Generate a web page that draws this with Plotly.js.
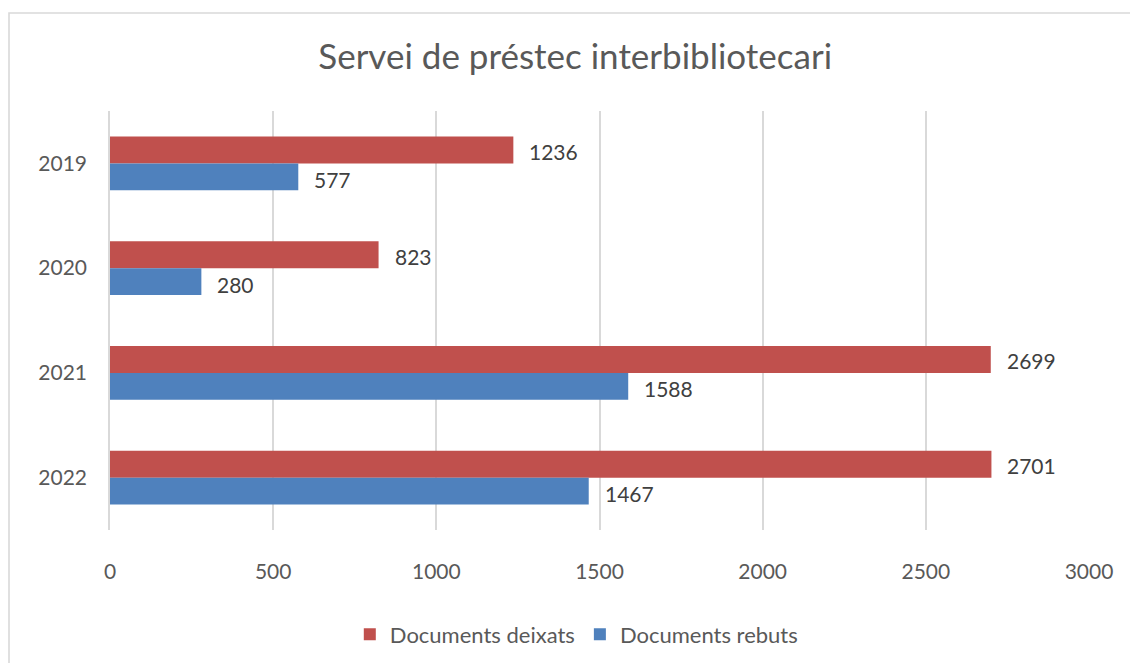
<!DOCTYPE html>
<html>
<head>
<meta charset="utf-8">
<script src="https://cdn.plot.ly/plotly-3.0.1.min.js"></script>
<style>
html,body{margin:0;padding:0;background:#fff;}
#chart{width:1130px;height:663px;}
</style>
</head>
<body>
<div id="chart"></div>
<script>
const years = ['2019', '2020', '2021', '2022'];
const deixats = [1236, 823, 2699, 2701];
const rebuts = [577, 280, 1588, 1467];
const seriesNames = ['Documents deixats', 'Documents rebuts'];
const xTicks = [0, 500, 1000, 1500, 2000, 2500, 3000];

const FONT = 'Lato, "Open Sans", sans-serif';
const RED = '#C0504D';
const BLUE = '#4F81BD';

const traces = [
  {
    type: 'bar', orientation: 'h', name: seriesNames[0],
    y: years, x: deixats,
    marker: {color: RED}
  },
  {
    type: 'bar', orientation: 'h', name: seriesNames[1],
    y: years, x: rebuts,
    marker: {color: BLUE}
  }
];

const annotations = [];
years.forEach((yr, i) => {
  annotations.push({
    x: deixats[i], y: i, xref: 'x', yref: 'y',
    text: String(deixats[i]), showarrow: false,
    xanchor: 'left', yanchor: 'middle', xshift: 14, yshift: 12,
    font: {family: FONT, size: 21, color: '#404040'}
  });
  annotations.push({
    x: rebuts[i], y: i, xref: 'x', yref: 'y',
    text: String(rebuts[i]), showarrow: false,
    xanchor: 'left', yanchor: 'middle', xshift: 14, yshift: -16,
    font: {family: FONT, size: 21, color: '#404040'}
  });
});

const layout = {
  width: 1130, height: 663,
  margin: {l: 110, r: 41, t: 111, b: 133},
  paper_bgcolor: '#ffffff', plot_bgcolor: '#ffffff',
  font: {family: FONT, color: '#595959', size: 21},
  title: {
    text: 'Servei de préstec interbibliotecari',
    font: {family: FONT, size: 35, color: '#595959'},
    x: 0.509, xref: 'container', xanchor: 'center',
    y: 0.914, yref: 'container', yanchor: 'middle'
  },
  barmode: 'group',
  bargap: 0.486,
  bargroupgap: 0,
  xaxis: {
    range: [0, 3000],
    tickvals: xTicks,
    ticktext: xTicks.map(String),
    showgrid: true, gridcolor: '#D9D9D9', gridwidth: 1.6,
    zeroline: false, showline: false, ticks: '',
    ticklabelstandoff: 27,
    tickfont: {family: FONT, size: 21, color: '#595959'}
  },
  yaxis: {
    type: 'category',
    categoryorder: 'array', categoryarray: years,
    range: [3.5, -0.5],
    showgrid: false, zeroline: false,
    showline: true, linecolor: '#D9D9D9', linewidth: 1.6,
    ticks: '', ticklabelstandoff: 17,
    tickfont: {family: FONT, size: 21, color: '#595959'}
  },
  showlegend: true,
  legend: {
    orientation: 'h',
    x: 0.51, xref: 'container', xanchor: 'center',
    y: 0.043, yref: 'container', yanchor: 'middle',
    font: {family: FONT, size: 22, color: '#595959'},
    traceorder: 'normal'
  },
  annotations: annotations,
  shapes: [{
    type: 'rect', xref: 'paper', yref: 'paper',
    x0: (9 - 110) / 979, x1: (1200 - 110) / 979,
    y0: -1, y1: (530 - 13) / 419,
    line: {color: '#D9D9D9', width: 1.6},
    fillcolor: 'rgba(0,0,0,0)', layer: 'below'
  }]
};

Plotly.newPlot('chart', traces, layout, {displayModeBar: false});
</script>
</body>
</html>
